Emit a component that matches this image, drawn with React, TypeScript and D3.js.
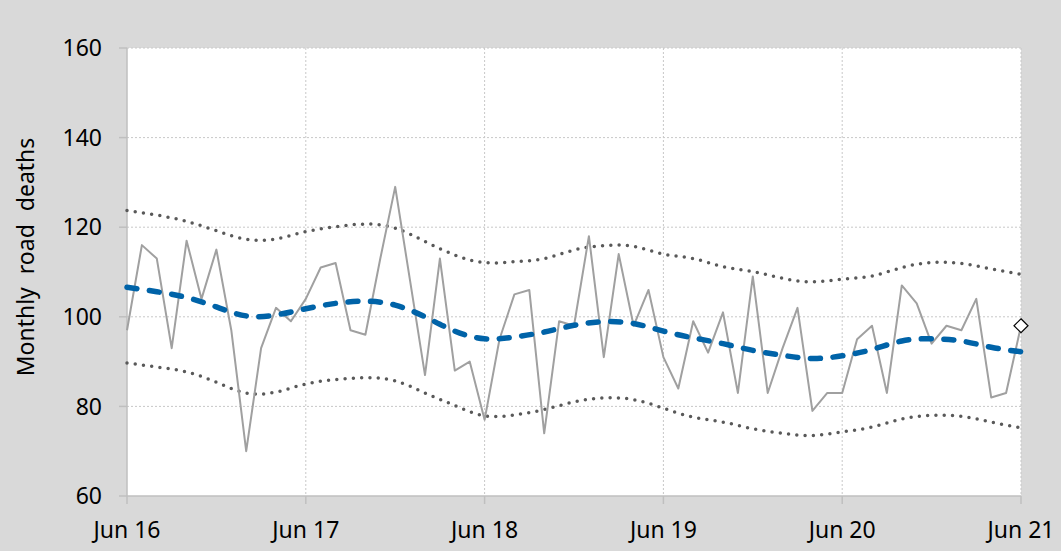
import React from "react";
import * as d3 from "d3";

const monthlyDeaths: number[] = [
  97, 116, 113, 93, 117, 104, 115, 97, 70, 93, 102, 99,
  104, 111, 112, 97, 96, 113, 129, 108, 87, 113, 88, 90,
  77, 95, 105, 106, 74, 99, 98, 118, 91, 114, 98, 106,
  91, 84, 99, 92, 101, 83, 109, 83, 93, 102, 79, 83,
  83, 95, 98, 83, 107, 103, 94, 98, 97, 104, 82, 83,
  98,
];

// smooth series sampled every 2 months (month index 0,2,...,60)
const trend: number[] = [
  106.6, 105.6, 104.3, 102.2, 100.2, 100.4, 101.8, 103, 103.5, 102.6, 100,
  96.8, 95.1, 95.5, 96.6, 98.1, 98.9, 98.5, 96.8, 95.3, 94, 92.5, 91.4,
  90.7, 91.3, 92.7, 94.6, 95.1, 94.6, 93.2, 92.2,
];
const upperBound: number[] = [
  123.7, 122.7, 121.3, 119.2, 117.3, 117.4, 119, 120.1, 120.7, 119.8, 116.8,
  113.8, 112.1, 112.3, 113, 114.9, 115.9, 115.7, 114, 113, 111.2, 110.1, 108.6,
  107.8, 108.4, 109.1, 111, 112.1, 111.9, 110.7, 109.5,
];
const lowerBound: number[] = [
  89.7, 88.8, 87.7, 85.4, 83, 83.2, 85, 86, 86.4, 85.7, 83, 80.2, 77.9,
  78.1, 79.3, 81, 81.9, 81.5, 79.6, 77.6, 76.5, 75, 74, 73.5, 74.3, 75.4,
  77.2, 78, 77.8, 76.5, 75.2,
];

const xTickLabels: string[] = ["Jun 16", "Jun 17", "Jun 18", "Jun 19", "Jun 20", "Jun 21"];
const yTicks: number[] = [60, 80, 100, 120, 140, 160];
const yTitle = "Monthly road deaths";

const W = 1061;
const H = 551;
const L = 127;
const R = 1021;
const T = 48;
const B = 496;
const FONT = "'Noto Sans', 'Open Sans', sans-serif";

export default function App() {
  const x = d3.scaleLinear().domain([0, 60]).range([L, R]);
  const y = d3.scaleLinear().domain([60, 160]).range([B, T]);

  const rawLine = d3
    .line<number>()
    .x((_, i) => x(i))
    .y((d) => y(d));
  const smoothLine = d3
    .line<number>()
    .x((_, i) => x(i * 2))
    .y((d) => y(d))
    .curve(d3.curveNatural);

  const gridColor = "#c8c8c8";
  const axisColor = "#bfbfbf";
  const last = monthlyDeaths.length - 1;
  const dx = x(last);
  const dy = y(monthlyDeaths[last]);
  const ds = 7;

  return (
    <svg
      width={W}
      height={H}
      style={{ position: "absolute", left: 0, top: 0 }}
      fontFamily={FONT}
    >
      <rect x={0} y={0} width={W} height={H} fill="#d9d9d9" />
      <rect x={L} y={T} width={R - L} height={B - T} fill="#ffffff" />

      {/* horizontal gridlines */}
      {yTicks.slice(1).map((t) => (
        <line
          key={"hg" + t}
          x1={L}
          x2={R}
          y1={y(t)}
          y2={y(t)}
          stroke={gridColor}
          strokeWidth={1}
          strokeDasharray="2,2"
        />
      ))}
      {/* vertical gridlines */}
      {xTickLabels.slice(1).map((_, k) => (
        <line
          key={"vg" + k}
          x1={x((k + 1) * 12)}
          x2={x((k + 1) * 12)}
          y1={T}
          y2={B}
          stroke={gridColor}
          strokeWidth={1}
          strokeDasharray="2,2"
        />
      ))}

      {/* axes */}
      <line x1={L} x2={L} y1={T} y2={B} stroke={axisColor} strokeWidth={1.5} />
      <line x1={L} x2={R} y1={B} y2={B} stroke={axisColor} strokeWidth={1.5} />
      {yTicks.map((t) => (
        <line key={"yt" + t} x1={L - 8} x2={L} y1={y(t)} y2={y(t)} stroke={axisColor} strokeWidth={1.5} />
      ))}
      {xTickLabels.map((_, k) => (
        <line key={"xt" + k} x1={x(k * 12)} x2={x(k * 12)} y1={B} y2={B + 8} stroke={axisColor} strokeWidth={1.5} />
      ))}

      {/* tick labels */}
      {yTicks.map((t) => (
        <text
          key={"yl" + t}
          x={102}
          y={y(t)}
          dy="0.36em"
          textAnchor="end"
          fontSize={23}
          fill="#000"
        >
          {t}
        </text>
      ))}
      {xTickLabels.map((lab, k) => (
        <text
          key={"xl" + k}
          x={x(k * 12)}
          y={538}
          textAnchor="middle"
          fontSize={23}
          fill="#000"
        >
          {lab}
        </text>
      ))}
      <text
        transform={`translate(34,257) rotate(-90)`}
        textAnchor="middle"
        fontSize={23}
        wordSpacing={7}
        fill="#000"
      >
        {yTitle}
      </text>

      {/* bounds */}
      <path
        d={smoothLine(upperBound) || ""}
        fill="none"
        stroke="#595959"
        strokeWidth={3.5}
        strokeLinecap="round"
        strokeDasharray="0,8.3"
      />
      <path
        d={smoothLine(lowerBound) || ""}
        fill="none"
        stroke="#595959"
        strokeWidth={3.5}
        strokeLinecap="round"
        strokeDasharray="0,8.3"
      />

      {/* monthly series */}
      <path
        d={rawLine(monthlyDeaths) || ""}
        fill="none"
        stroke="#a0a0a0"
        strokeWidth={2}
        strokeLinejoin="round"
      />

      {/* trend */}
      <path
        d={smoothLine(trend) || ""}
        fill="none"
        stroke="#0063a8"
        strokeWidth={5.5}
        strokeLinecap="round"
        strokeDasharray="10,12.6"
      />

      {/* latest point marker */}
      <path
        d={`M${dx},${dy - ds}L${dx + ds},${dy}L${dx},${dy + ds}L${dx - ds},${dy}Z`}
        fill="#ffffff"
        stroke="#000"
        strokeWidth={1.2}
      />
    </svg>
  );
}
